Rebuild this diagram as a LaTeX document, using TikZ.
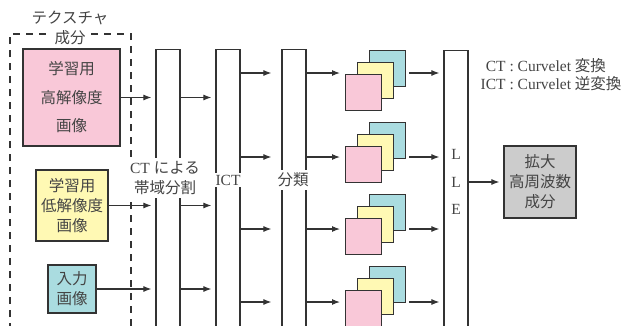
\documentclass[tikz,border=0pt]{standalone}
\usepackage{fontspec}
\setmainfont{Liberation Serif}
\newfontfamily\jp{Noto Sans CJK JP}
\usetikzlibrary{arrows.meta}
\definecolor{tpink}{RGB}{249,200,216}
\definecolor{tyellow}{RGB}{255,249,180}
\definecolor{tblue}{RGB}{170,220,224}
\definecolor{tgray}{RGB}{204,204,204}
\definecolor{lline}{RGB}{51,51,51}
\definecolor{ttext}{RGB}{68,68,68}
\begin{document}
\begin{tikzpicture}[x=1pt, y=-1pt, color=lline, line width=1.1pt,
	every node/.style={text=ttext, font=\fontsize{15.5}{20}\selectfont},
	jp/.style={font=\jp\fontsize{15.5}{20}\selectfont},
	box/.style={draw, line width=1.2pt, align=center, inner sep=0pt},
	bar/.style={draw, line width=1.2pt, minimum width=24pt, minimum height=290pt, anchor=north, inner sep=0pt},
	sq/.style={draw, line width=1.2pt, minimum size=36pt, inner sep=0pt, anchor=north west},
	arr/.style={-{Latex[length=8pt,width=6pt]}, line width=1.1pt},
	lab/.style={fill=white, align=center, inner sep=3pt}]
		\useasboundingbox (0,0) rectangle (623,325);
		\clip (0,0) rectangle (623,325);

		% texture part
		\draw[dash pattern=on 7pt off 6pt, line width=1.2pt] (10,330) -- (10,34) -- (131,34) -- (131,330);
		\node[jp] (ttl) at (70,18) {テクスチャ};
		\node[jp, fill=white] (ttl2) at (70,38) {成分};

		\node[box, fill=tpink, minimum width=97pt, minimum height=97pt, jp] (hr) at (71.5,97.5) {学習用\\[8.5pt]高解像度\\[8.5pt]画像};
		\node[box, fill=tyellow, minimum width=72pt, minimum height=71pt, jp] (lr) at (72,205.5) {学習用\\低解像度\\画像};
		\node[box, fill=tblue, minimum size=48pt, jp] (in) at (72,289) {入力\\画像};

		% processing bars
		\node[bar] (ct) at (168,49) {};
		\node[bar] (ict) at (228,49) {};
		\node[bar] (cls) at (294,49) {};
		\node[bar] (lle) at (456,50) {};

		\foreach \n in {hr,lr,in} {
			\draw[arr, shorten >=4pt] (\n) -- (\n -| ct.west);
			\draw[arr, shorten >=4pt] (ct.east |- \n) -- (ict.west |- \n);
		}

		% coefficient stacks
		\foreach \i/\t/\a in {1/74/73, 2/146/157, 3/218/229, 4/290/302} {
			\node[sq, fill=tblue] (b\i) at (369,{\t-24}) {};
			\node[sq, fill=tyellow] (y\i) at (357,{\t-12}) {};
			\node[sq, fill=tpink] (p\i) at (345,\t) {};
			\coordinate (r\i) at (0,\a);
			\draw[arr, shorten >=10pt] (ict.east |- r\i) -- (cls.west |- r\i);
			\draw[arr, shorten >=5pt] (cls.east |- r\i) -- (p\i.west |- r\i);
			\draw[arr, shorten <=3pt, shorten >=4pt] (b\i.east |- r\i) -- (lle.west |- r\i);
		}

		\node[lab] (ctl) at (165,178) {CT {\jp による}\\{\jp 帯域分割}};
		\node[lab, inner sep=2pt] (ictl) at (228,180) {ICT};
		\node[lab, jp] (clsl) at (293,180) {分類};
		\node[align=center, inner sep=0pt] (llel) at (456,182) {L\\[7.5pt]L\\[7.5pt]E};

		% output
		\node[box, fill=tgray, minimum size=72pt, jp] (out) at (540,182) {拡大\\高周波数\\成分};
		\draw[arr, shorten >=4pt] (lle.east |- out) -- (out);

		\node[anchor=north east, inner sep=0pt] (leg) at (622,58) {\renewcommand\arraystretch{0.85}%
			\begin{tabular}{@{}r@{ : }l@{}}CT & Curvelet {\jp 変換}\\ICT & Curvelet {\jp 逆変換}\end{tabular}};
	\end{tikzpicture}
\end{document}
